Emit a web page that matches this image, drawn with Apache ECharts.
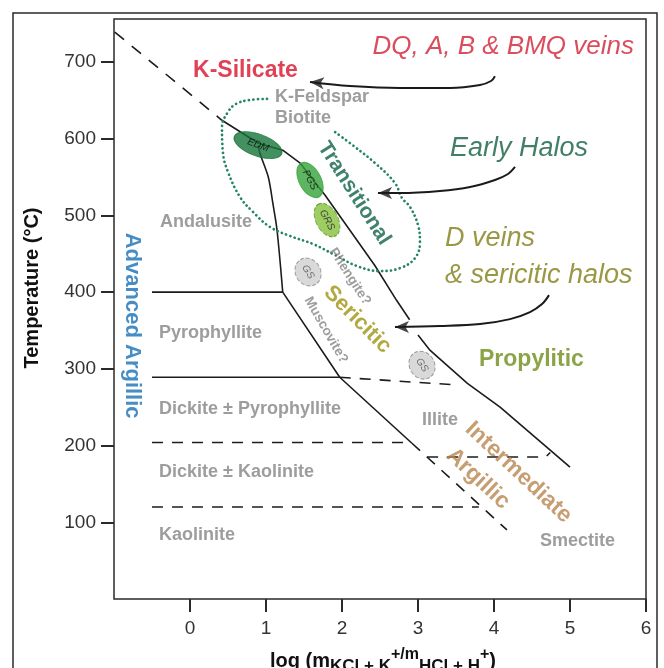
<!DOCTYPE html>
<html><head><meta charset="utf-8">
<script src="https://cdn.jsdelivr.net/npm/echarts@6/dist/echarts.min.js"></script>
<style>html,body{margin:0;padding:0;background:#fff}#c{width:664px;height:668px}</style>
</head><body><div id="c"></div>
<script>
// ---------- data (x = log ratio, y = temperature °C) ----------
const xTicks = [0, 1, 2, 3, 4, 5, 6];
const yTicks = [100, 200, 300, 400, 500, 600, 700];

const kSilicateBoundaryDashed = [[-0.99, 739], [0.42, 624]];
const transitionalUpperSolid = [[0.42, 624], [0.9, 594], [1.22, 585], [1.45, 568], [1.78, 526], [2.43, 435], [2.72, 389], [2.89, 364]];
const propyliticBoundary = [[3.0, 344], [3.16, 324], [3.65, 281], [4.08, 250], [5.0, 172]];
const sericiticLeftUpper = [[0.9, 591], [0.92, 581], [1.03, 550], [1.09, 516], [1.145, 481], [1.22, 400]];
const sericiticLeftLower = [[1.22, 400], [1.97, 289], [2.92, 203]];
const sericiticLeftDashed = [[2.92, 203], [4.17, 90]];
const iso400 = [[-0.5, 400], [1.22, 400]];
const iso290 = [[-0.5, 289], [1.97, 289]];
const iso290Dashed = [[1.97, 289], [3.51, 279]];
const iso204Dashed = [[-0.5, 204], [2.9, 204]];
const iso185Dashed = [[3.12, 185], [4.68, 185], [4.74, 191]];
const iso120Dashed = [[-0.5, 120], [3.8, 120]];

const earlyHaloOutline = [[1.013, 651.8], [0.789, 650.5], [0.605, 645.3], [0.5, 634.9], [0.421, 615.3], [0.434, 581.4], [0.5, 556.6], [0.658, 524], [0.829, 504.5], [1.053, 484.9], [1.316, 473.2], [1.618, 462.7], [1.908, 448.4], [2.197, 434], [2.5, 427.4], [2.763, 431.3], [2.961, 444.4], [3.026, 465.3], [3.0, 487.5], [2.895, 511], [2.789, 522.7], [2.697, 542.2], [2.434, 568.3], [2.171, 589.2], [1.908, 608.7]];

const arrowVeins = [[4.013, 681.4], [3.961, 675.2], [3.816, 670.0], [3.421, 666.1], [2.763, 666.1], [2.105, 668.7], [1.579, 673.9]];
const arrowEarly = [[4.276, 563.1], [4.184, 554.0], [4.013, 546.2], [3.684, 537.1], [3.289, 531.9], [2.763, 529.2], [2.474, 529.2]];
const arrowDVeins = [[4.724, 396.1], [4.632, 384.4], [4.474, 374.0], [4.211, 364.8], [3.816, 358.3], [3.289, 355.7], [2.697, 354.4]];

const zoneNames = ['EDM', 'PGS', 'GRS', 'GS', 'GS'];
const zoneCenters = [[0.895, 591.6], [1.579, 546.1], [1.803, 494.0], [1.553, 426.2], [3.053, 304.8]];

const mineralNames = ['K-Feldspar', 'Biotite', 'Andalusite', 'Pyrophyllite', 'Dickite ± Pyrophyllite', 'Dickite ± Kaolinite', 'Kaolinite', 'Illite', 'Smectite'];
const mineralAnchors = [[1.118, 654.3], [1.118, 626.3], [-0.395, 492.0], [-0.408, 346.6], [-0.408, 247.4], [-0.408, 165.2], [-0.408, 83.1], [3.053, 233.1], [4.605, 75.6]];

// ---------- chart ----------
const FONT = "'Liberation Sans', Arial, Helvetica, sans-serif";
const chart = echarts.init(document.getElementById('c'));

function seg(data, dashed, extra) {
  return Object.assign({
    type: 'line', data: data, symbol: 'none', silent: true, z: 2, animation: false,
    lineStyle: { color: '#1c1c1c', width: 1.6, type: dashed ? [11, 9] : 'solid' }
  }, extra || {});
}
function txt(pos, text, o) {
  return {
    value: pos,
    label: Object.assign({ show: true, position: 'inside', formatter: text, fontFamily: FONT,
      align: 'center', verticalAlign: 'middle' }, o)
  };
}
const ELLIPSE = 'path://M0,50A50,50 0 1 1 100,50A50,50 0 1 1 0,50Z';
const zoneStyles = [
  { size: [50, 22], rot: -20, fill: '#17743a', border: '#17743a', dash: 'solid', tc: '#0d0d0d' },
  { size: [38, 22], rot: -62, fill: '#34a13a', border: '#34a13a', dash: 'solid', tc: '#0d0d0d' },
  { size: [36, 22], rot: -62, fill: '#86c03c', border: '#5a9628', dash: 'dashed', tc: '#1e1e1e' },
  { size: [29, 25], rot: -58, fill: '#cfcfcf', border: '#858585', dash: 'dashed', tc: '#505050' },
  { size: [29, 25], rot: -58, fill: '#cfcfcf', border: '#858585', dash: 'dashed', tc: '#505050' }
];
const zoneData = zoneNames.map((n, i) => {
  const s = zoneStyles[i];
  return {
    value: zoneCenters[i], symbolSize: s.size, symbolRotate: s.rot,
    itemStyle: { color: s.fill, borderColor: s.border, borderWidth: 1, borderType: s.dash },
    label: { show: true, position: 'inside', formatter: n, rotate: s.rot, fontSize: 10, fontStyle: 'italic',
      color: s.tc, fontFamily: FONT }
  };
});

const gray = { fontSize: 18, fontWeight: 'bold', color: '#858585', align: 'left' };
const annotations = mineralNames.map((n, i) => txt(mineralAnchors[i], n, gray));
annotations.push(
  txt([0.73, 688.3], 'K-Silicate', { fontSize: 23, fontWeight: 'bold', color: '#d8122a' }),
  txt([5.842, 719.5], 'DQ, A, B & BMQ veins', { fontSize: 26, fontStyle: 'italic', color: '#d21f35', align: 'right' }),
  txt([3.421, 586.6], 'Early Halos', { fontSize: 27, fontStyle: 'italic', color: '#125f40', align: 'left' }),
  txt([3.355, 469.6], 'D veins', { fontSize: 27, fontStyle: 'italic', color: '#817e17', align: 'left' }),
  txt([3.355, 422.0], '& sericitic halos', { fontSize: 27, fontStyle: 'italic', color: '#817e17', align: 'left' }),
  txt([2.16, 528.8], 'Transitional', { fontSize: 21, fontWeight: 'bold', color: '#0f6446', rotate: -57.5 }),
  txt([2.204, 364.2], 'Sericitic', { fontSize: 22, fontWeight: 'bold', color: '#a09412', rotate: -45 }),
  txt([2.105, 420.2], 'Phengite?', { fontSize: 13.5, fontWeight: 'bold', color: '#858585', rotate: -57 }),
  txt([1.789, 350.5], 'Muscovite?', { fontSize: 13.5, fontWeight: 'bold', color: '#858585', rotate: -60 }),
  txt([3.803, 312.6], 'Propylitic', { fontSize: 23, fontWeight: 'bold', color: '#6f8c1a', align: 'left' }),
  txt([4.322, 164.9], 'Intermediate', { fontSize: 23, fontWeight: 'bold', color: '#b8864f', rotate: -43 }),
  txt([3.789, 156.8], 'Argillic', { fontSize: 23, fontWeight: 'bold', color: '#b8864f', rotate: -43 }),
  txt([-0.763, 356.3], 'Advanced Argillic', { fontSize: 22, fontWeight: 'bold', color: '#1670b5', rotate: -90 })
);

const arrowHeads = [
  { value: arrowVeins[arrowVeins.length - 1], symbolRotate: 85 },
  { value: arrowEarly[arrowEarly.length - 1], symbolRotate: 90 },
  { value: arrowDVeins[arrowDVeins.length - 1], symbolRotate: 90 }
];
const arrowLine = { color: '#1a1a1a', width: 2, type: 'solid' };

const option = {
  animation: false,
  backgroundColor: '#fff',
  grid: { left: 114, right: 18, top: 19, bottom: 69, show: true, borderColor: '#2a2a2a', borderWidth: 1.5 },
  xAxis: {
    type: 'value', min: -1, max: 6,
    axisLine: { show: false, onZero: false }, splitLine: { show: false },
    axisTick: { show: true, length: 13, lineStyle: { color: '#2a2a2a', width: 2 }, customValues: xTicks },
    axisLabel: { customValues: xTicks, fontSize: 19, color: '#333', fontFamily: FONT, margin: 20 }
  },
  yAxis: {
    type: 'value', min: 0, max: 756,
    axisLine: { show: false, onZero: false }, splitLine: { show: false },
    axisTick: { show: true, length: 13, lineStyle: { color: '#2a2a2a', width: 2 }, customValues: yTicks },
    axisLabel: { customValues: yTicks, fontSize: 19, color: '#333', fontFamily: FONT, margin: 18 }
  },
  graphic: [
    { type: 'rect', shape: { x: 13, y: 13, width: 644, height: 720 }, style: { fill: 'none', stroke: '#2a2a2a', lineWidth: 1.5 }, silent: true, z: -1 },
    { type: 'text', x: 32, y: 288, rotation: Math.PI / 2, style: { text: 'Temperature (°C)', font: "bold 20px 'Liberation Sans', Arial, sans-serif", fill: '#111', align: 'center', verticalAlign: 'middle' } },
    { type: 'text', x: 383, y: 661, style: {
      text: '{b|log (m}{s|KCl + K}{p|+/m}{s|HCl + H}{p|+}{b|)}',
      align: 'center', verticalAlign: 'middle', fill: '#111',
      rich: {
        b: { fontSize: 20, fontWeight: 'bold', fontFamily: FONT, fill: '#111', lineHeight: 28, verticalAlign: 'middle' },
        s: { fontSize: 17, fontWeight: 'bold', fontFamily: FONT, fill: '#111', lineHeight: 28, verticalAlign: 'bottom' },
        p: { fontSize: 16, fontWeight: 'bold', fontFamily: FONT, fill: '#111', lineHeight: 28, verticalAlign: 'top' }
      } } }
  ],
  series: [
    seg(kSilicateBoundaryDashed, false, { lineStyle: { color: '#1c1c1c', width: 1.6, type: [12, 10] } }),
    seg(transitionalUpperSolid, false),
    seg(propyliticBoundary, false),
    seg(sericiticLeftUpper, false, { smooth: 0.3 }),
    seg(sericiticLeftLower, false),
    seg(sericiticLeftDashed, true),
    seg(iso400, false),
    seg(iso290, false),
    seg(iso290Dashed, true),
    seg(iso204Dashed, true),
    seg(iso185Dashed, true),
    seg(iso120Dashed, true),
    { type: 'line', data: earlyHaloOutline, symbol: 'none', smooth: 0.4, silent: true, z: 3,
      lineStyle: { color: '#24846a', width: 2.7, type: [0.1, 4.4], cap: 'round' } },
    seg(arrowVeins, false, { smooth: 0.35, lineStyle: arrowLine, z: 4 }),
    seg(arrowEarly, false, { smooth: 0.35, lineStyle: arrowLine, z: 4 }),
    seg(arrowDVeins, false, { smooth: 0.35, lineStyle: arrowLine, z: 4 }),
    { type: 'scatter', data: arrowHeads, symbol: 'arrow', symbolSize: [9, 14], silent: true, z: 5,
      itemStyle: { color: '#1a1a1a' } },
    { type: 'scatter', data: zoneData, symbol: ELLIPSE, silent: true, z: 6 },
    { type: 'scatter', data: annotations, symbolSize: 1, silent: true, z: 7,
      itemStyle: { color: 'rgba(0,0,0,0)' } }
  ]
};
chart.setOption(option);
</script></body></html>
